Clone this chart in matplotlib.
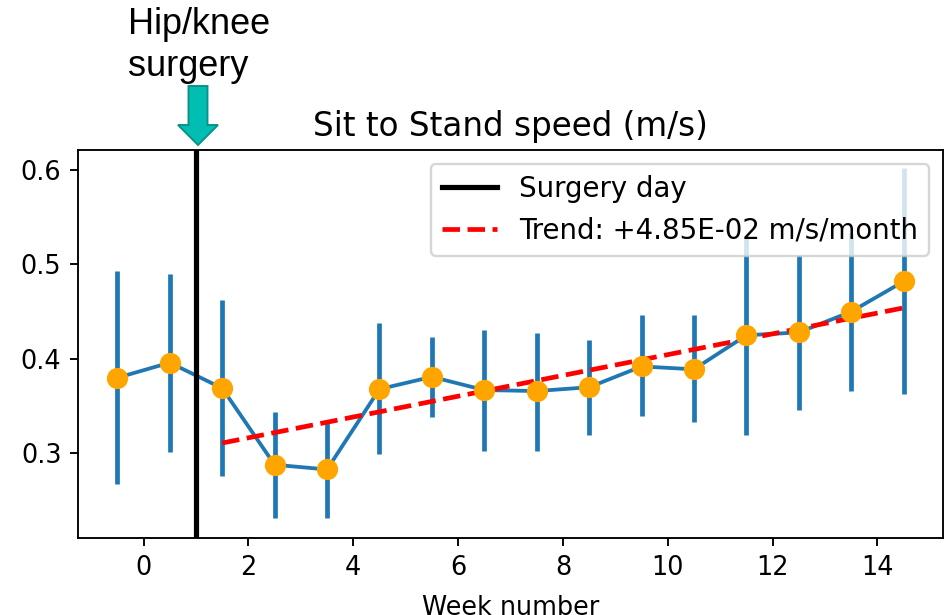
import matplotlib
matplotlib.use("Agg")
import matplotlib.pyplot as plt
from matplotlib.patches import FancyArrow
import numpy as np

# week centres, mean speed and spread
weeks = [-0.5, 0.5, 1.5, 2.5, 3.5, 4.5, 5.5, 6.5, 7.5, 8.5, 9.5, 10.5, 11.5, 12.5, 13.5, 14.5]
speed = [0.380, 0.396, 0.369, 0.288, 0.283, 0.368, 0.381, 0.367, 0.366, 0.370, 0.392, 0.389, 0.425, 0.428, 0.450, 0.482]
lower = [0.268, 0.302, 0.276, 0.232, 0.232, 0.299, 0.338, 0.303, 0.303, 0.320, 0.340, 0.333, 0.319, 0.346, 0.366, 0.363]
upper = [0.493, 0.490, 0.462, 0.344, 0.334, 0.438, 0.423, 0.431, 0.427, 0.420, 0.446, 0.446, 0.530, 0.510, 0.533, 0.602]

surgery_week = 1
trend_x = [1.5, 14.5]
trend_y = [0.311, 0.454]
trend_label = "Trend: +4.85E-02 m/s/month"

DPI = 170
plt.rcParams["xtick.labelsize"] = 10.8
plt.rcParams["ytick.labelsize"] = 10.8
fig = plt.figure(figsize=(945 / DPI, 615 / DPI), dpi=DPI)
ax = fig.add_axes([78 / 945, 1 - 538 / 615, (943 - 78) / 945, (538 - 150) / 615])

speed_a = np.array(speed)
yerr = [speed_a - np.array(lower), np.array(upper) - speed_a]
ax.errorbar(weeks, speed, yerr=yerr, fmt="-", color="C0", elinewidth=2, lw=1.6, zorder=2)
ax.axvline(surgery_week, color="black", lw=2.2, label="Surgery day", zorder=3)
ax.plot(trend_x, trend_y, "r--", lw=2, label=trend_label, zorder=4)
ax.plot(weeks, speed, "o", color="orange", ms=8, zorder=5)

ax.set_title("Sit to Stand speed (m/s)", fontsize=13.8, pad=6)
ax.set_xlabel("Week number", fontsize=10.8, labelpad=6)
ax.set_xticks([0, 2, 4, 6, 8, 10, 12, 14])
ax.set_yticks([0.3, 0.4, 0.5, 0.6])
ax.set_ylim(0.2105, 0.621)
ax.legend(loc="upper right", fontsize=11.7)

# annotation pasted on top of the plot
fig.text(128 / 945, 1 - 7 / 615, "Hip/knee\nsurgery", family="Liberation Sans",
         fontsize=15.3, ha="left", va="top", linespacing=1.25)
fig.add_artist(FancyArrow(198 / 945, 1 - 86 / 615, 0, -(145 - 86) / 615,
                          width=19 / 945, head_width=40 / 945, head_length=20 / 615,
                          length_includes_head=True, transform=fig.transFigure,
                          facecolor="#00BFB2", edgecolor="#0B9086", lw=0.8))

fig.savefig("out.png", dpi=DPI)
